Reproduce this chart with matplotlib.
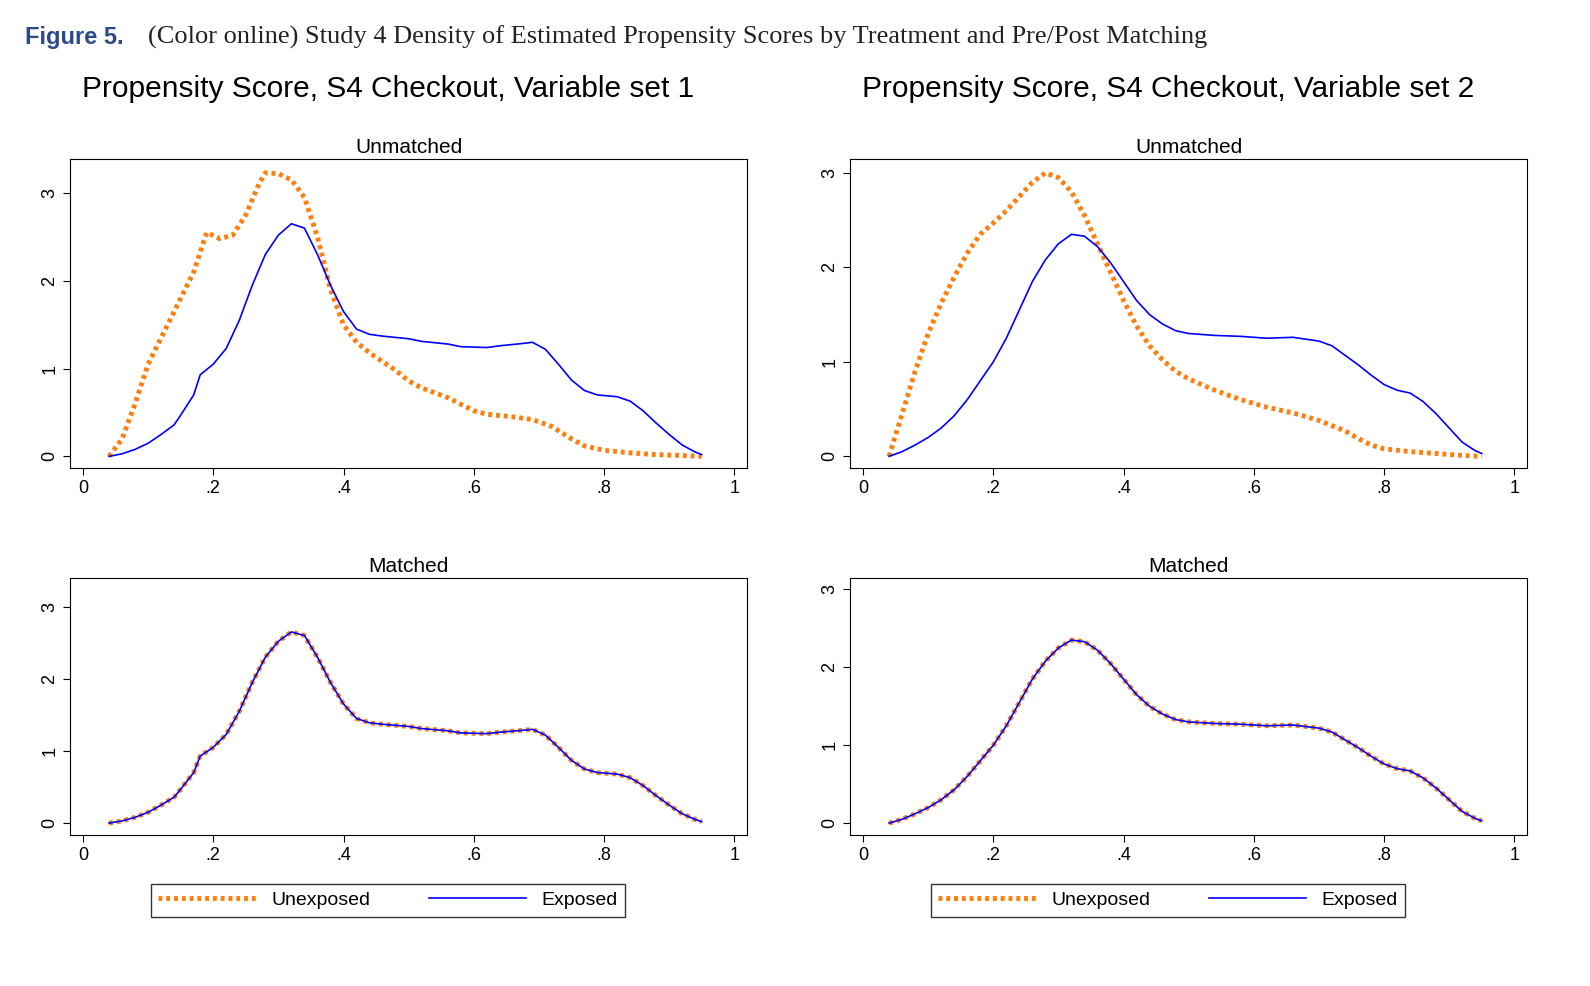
import matplotlib
matplotlib.use("Agg")
import matplotlib.pyplot as plt
import numpy as np

plt.rcParams['font.family'] = ['Liberation Sans', 'DejaVu Sans']

# Variable set 1
x1_exp = [.04,.06,.08,.10,.12,.14,.15,.17,.18,.20,.22,.24,.26,.28,.30,.32,.34,.36,.38,.40,.42,.44,.46,.50,.52,.56,.58,.62,.64,.68,.69,.71,.73,.75,.77,.79,.82,.84,.86,.88,.90,.92,.94,.95]
y1_exp = [0,.03,.08,.15,.25,.36,.47,.70,.93,1.05,1.23,1.55,1.95,2.30,2.52,2.65,2.60,2.30,1.95,1.65,1.45,1.39,1.37,1.34,1.31,1.28,1.25,1.24,1.26,1.29,1.30,1.22,1.05,.87,.75,.70,.68,.63,.52,.38,.25,.13,.05,.02]
x1_unexp = [.04,.06,.08,.10,.12,.14,.16,.17,.19,.21,.23,.25,.27,.28,.30,.32,.34,.36,.38,.40,.42,.44,.46,.48,.50,.52,.56,.60,.62,.66,.69,.72,.75,.77,.80,.84,.88,.92,.95]
y1_unexp = [0,.20,.60,1.05,1.35,1.65,1.95,2.10,2.55,2.48,2.52,2.75,3.10,3.23,3.22,3.15,2.95,2.50,1.90,1.50,1.30,1.18,1.08,.98,.86,.78,.67,.52,.48,.45,.42,.34,.20,.12,.07,.04,.02,.01,0]

# Variable set 2
x2_exp = [.04,.06,.08,.10,.12,.14,.16,.18,.20,.22,.24,.26,.28,.30,.32,.34,.36,.38,.40,.42,.44,.46,.48,.50,.54,.58,.62,.66,.70,.72,.74,.76,.78,.80,.82,.84,.86,.88,.90,.92,.94,.95]
y2_exp = [0,.05,.12,.20,.30,.43,.60,.80,1.00,1.25,1.55,1.85,2.08,2.25,2.35,2.33,2.22,2.05,1.85,1.65,1.50,1.40,1.33,1.30,1.28,1.27,1.25,1.26,1.22,1.17,1.07,.97,.86,.76,.70,.67,.58,.45,.30,.15,.06,.03]
x2_unexp = [.04,.06,.08,.10,.12,.14,.16,.18,.20,.22,.24,.26,.28,.30,.32,.34,.36,.38,.40,.42,.44,.46,.48,.50,.54,.58,.62,.66,.70,.74,.76,.78,.80,.84,.88,.92,.95]
y2_unexp = [0,.45,.90,1.30,1.62,1.90,2.15,2.35,2.47,2.60,2.75,2.90,3.00,2.95,2.80,2.55,2.25,1.95,1.65,1.38,1.17,1.02,.90,.82,.70,.60,.52,.46,.38,.27,.19,.12,.08,.05,.03,.01,0]

titles = ["Propensity Score, S4 Checkout, Variable set 1", "Propensity Score, S4 Checkout, Variable set 2"]
orange = "#ff7f0e"
dots = (0, (0.8, 0.8))

fig = plt.figure(figsize=(15.9, 9.86), dpi=100)
fig.text(0.016, 0.962, "Figure 5.", color="#2b4a8a", fontweight="bold", fontsize=17, va="center")
fig.text(0.093, 0.962, "(Color online) Study 4 Density of Estimated Propensity Scores by Treatment and Pre/Post Matching",
         family=["Liberation Serif"], fontsize=19, va="center", color="#222222")

sets = [(x1_exp, y1_exp, x1_unexp, y1_unexp, (-0.136, 3.39), (-0.167, 3.4)),
        (x2_exp, y2_exp, x2_unexp, y2_unexp, (-0.127, 3.15), (-0.154, 3.15))]
lefts = [0.044, 0.5346]
W = 0.426
for i, (xe, ye, xu, yu, yl_top, yl_bot) in enumerate(sets):
    L = lefts[i]
    fig.text(L + W / 2 - 0.013, 0.91, titles[i], ha="center", va="center", fontsize=21.5)
    ax1 = fig.add_axes([L, 0.525, W, 0.314])
    ax2 = fig.add_axes([L, 0.153, W, 0.261])
    ax1.plot(xu, yu, color=orange, lw=3.5, ls=dots, label="Unexposed")
    ax1.plot(xe, ye, color="blue", lw=1.2, label="Exposed")
    ax2.plot(xe, ye, color=orange, lw=3.5, ls=dots, label="Unexposed")
    ax2.plot(xe, ye, color="blue", lw=1.2, label="Exposed")
    for ax, yl, t in [(ax1, yl_top, "Unmatched"), (ax2, yl_bot, "Matched")]:
        ax.set_xlim(-0.02, 1.02)
        ax.set_ylim(*yl)
        ax.set_title(t, fontsize=15, pad=4)
        ax.set_xticks([0, .2, .4, .6, .8, 1])
        ax.set_xticklabels(["0", ".2", ".4", ".6", ".8", "1"], fontsize=13)
        ax.set_yticks([0, 1, 2, 3])
        ax.set_yticklabels(["0", "1", "2", "3"], fontsize=13, rotation=90, va="center")
        ax.tick_params(length=5)
    h, l = ax2.get_legend_handles_labels()
    fig.legend(h, l, loc="center", bbox_to_anchor=(L + W / 2 - 0.013, 0.087), ncol=2, frameon=True,
               fancybox=False, edgecolor="black", fontsize=14, handlelength=5, columnspacing=3)

fig.savefig("out.png", dpi=100, facecolor="white")
